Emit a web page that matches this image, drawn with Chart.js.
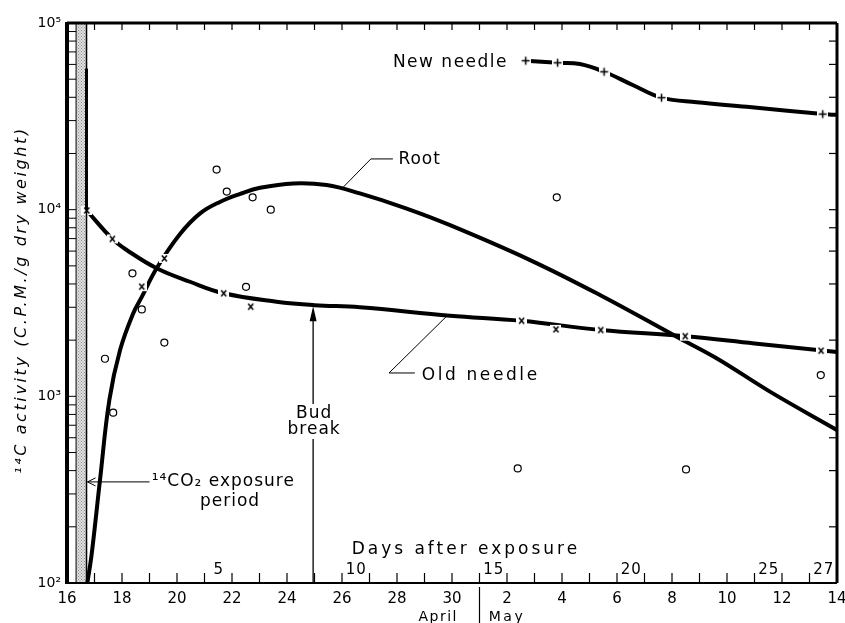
<!DOCTYPE html>
<html>
<head>
<meta charset="utf-8">
<script src="https://cdn.jsdelivr.net/npm/chart.js@4.4.0/dist/chart.umd.min.js"></script>
<style>
  html, body { margin: 0; padding: 0; background: #fff; }
</style>
</head>
<body>
<canvas id="carbonChart" width="845" height="623"></canvas>
<script>
/* eslint-disable no-undef */
// x is counted in days from 16 April
const dateTicks = [0, 2, 4, 6, 8, 10, 12, 14, 16, 18, 20, 22, 24, 26, 28];
const dateLabels = ['16', '18', '20', '22', '24', '26', '28', '30', '2', '4', '6', '8', '10', '12', '14'];
const yTicks = [100, 1000, 10000, 100000];
const yLabels = ['10²', '10³', '10⁴', '10⁵'];
const daysAfter = [5, 10, 15, 20, 25, 27];
const exposurePeriod = [0.33, 0.71];
const budBreakDay = 8.95;
const budBreakValue = 3080;

// measured points
const oldNeedleDays = [0.72, 1.65, 2.72, 3.54, 5.7, 6.68, 16.53, 17.78, 19.41, 22.48, 27.42];
const oldNeedleValues = [9900, 6970, 3870, 5480, 3565, 3020, 2540, 2285, 2265, 2100, 1755];
const newNeedleDays = [16.68, 17.84, 19.53, 21.62, 27.48];
const newNeedleValues = [62800, 61200, 54800, 39800, 32500];
const rootDays = [1.38, 1.68, 2.38, 2.72, 3.54, 5.44, 5.81, 6.51, 6.75, 7.41, 16.39, 17.81, 22.51, 27.41];
const rootValues = [1590, 817, 4560, 2920, 1940, 16400, 12500, 3860, 11650, 10000, 411, 11650, 406, 1300];

// fitted curves as drawn in the figure
const oldCurveDays = [0.72, 1.65, 2.17, 3.26, 4.47, 5.7, 7.62, 9.0, 10.65, 13.93, 16.53, 19.41, 22.48, 25.0, 28];
const oldCurveValues = [9900, 6970, 6080, 4855, 4110, 3565, 3215, 3080, 3000, 2705, 2540, 2265, 2100, 1920, 1730];
const newCurveDays = [16.68, 17.84, 18.65, 19.53, 20.59, 21.62, 22.9, 24.72, 27.48, 28];
const newCurveValues = [62800, 61200, 60300, 54800, 46400, 39800, 37600, 35600, 32500, 32200];
const rootCurveDays = [0.74, 0.9, 1.2, 1.54, 1.93, 2.41, 2.72, 3.26, 4.11, 4.84, 5.56, 6.3, 7.02, 8.23, 9.44, 10.65, 12.3, 13.93, 16.84, 19.38, 22.17, 23.62, 25.56, 27.99];
const rootCurveValues = [100, 144, 356, 955, 1770, 2790, 3410, 4855, 7400, 9550, 11000, 12150, 13100, 13830, 13550, 12220, 10200, 8260, 5370, 3490, 2085, 1600, 1060, 661];

const FONT = '"DejaVu Sans", sans-serif';
const pts = (xs, ys) => xs.map((d, i) => ({ x: d, y: ys[i] }));

function markCanvas(kind) {
  const c = document.createElement('canvas');
  c.width = 11;
  c.height = 11;
  const g = c.getContext('2d');
  g.fillStyle = '#fff';
  g.fillRect(0, 1, 11, 9);
  g.strokeStyle = '#000';
  g.lineWidth = 1.5;
  g.beginPath();
  if (kind === 'x') {
    g.moveTo(3, 2.5); g.lineTo(8, 8.5);
    g.moveTo(8, 2.5); g.lineTo(3, 8.5);
  } else {
    g.moveTo(1.5, 5.5); g.lineTo(9.5, 5.5);
    g.moveTo(5.5, 1.5); g.lineTo(5.5, 9.5);
  }
  g.stroke();
  return c;
}

function stipplePattern() {
  const c = document.createElement('canvas');
  c.width = 3;
  c.height = 3;
  const g = c.getContext('2d');
  g.fillStyle = '#e0e0e0';
  g.fillRect(0, 0, 3, 3);
  g.fillStyle = '#8a8a8a';
  g.fillRect(0, 0, 1, 1);
  g.fillRect(1.5, 1.5, 1, 1);
  return g.createPattern(c, 'repeat');
}

function text(ctx, str, x, y, size, opts = {}) {
  ctx.save();
  ctx.font = (opts.italic ? 'italic ' : '') + size + 'px ' + FONT;
  ctx.letterSpacing = (opts.spacing || 0) + 'px';
  ctx.textAlign = opts.align || 'left';
  ctx.textBaseline = 'middle';
  ctx.fillStyle = '#000';
  ctx.fillText(str, x, y);
  ctx.restore();
}

function line(ctx, coords, width) {
  ctx.save();
  ctx.strokeStyle = '#000';
  ctx.lineWidth = width;
  ctx.beginPath();
  ctx.moveTo(coords[0], coords[1]);
  for (let i = 2; i < coords.length; i += 2) ctx.lineTo(coords[i], coords[i + 1]);
  ctx.stroke();
  ctx.restore();
}

const decor = {
  id: 'decor',
  beforeDatasetsDraw(chart) {
    const { ctx, chartArea: a, scales: { x } } = chart;
    const x0 = x.getPixelForValue(exposurePeriod[0]);
    const x1 = x.getPixelForValue(exposurePeriod[1]);
    ctx.save();
    ctx.fillStyle = stipplePattern();
    ctx.fillRect(x0, a.top, x1 - x0, a.bottom - a.top);
    ctx.restore();
  },
  afterDatasetsDraw(chart) {
    const { ctx, chartArea: a, scales: { x, y } } = chart;
    const x0 = x.getPixelForValue(exposurePeriod[0]);
    const x1 = x.getPixelForValue(exposurePeriod[1]);

    // exposure strip edges
    line(ctx, [x0, a.top, x0, a.bottom], 1);
    line(ctx, [x1, a.top, x1, a.bottom], 1.5);
    line(ctx, [x1, y.getPixelForValue(57000), x1, y.getPixelForValue(10000)], 3);

    // day ticks, top and bottom, pointing inward
    for (let d = 1; d < 28; d++) {
      const px = x.getPixelForValue(d);
      line(ctx, [px, a.bottom, px, a.bottom - 10], 1.2);
      line(ctx, [px, a.top, px, a.top + 7], 1.2);
    }
    // log ladder on the left, even ticks on the right
    for (let dec = 100; dec < 100000; dec *= 10) {
      for (let m = 1; m <= 9; m++) {
        const py = y.getPixelForValue(dec * m);
        line(ctx, [a.left, py, x0, py], 1);
        if (m % 2 === 0 || m === 1) line(ctx, [a.right, py, a.right - 8, py], 1.2);
      }
    }

    // frame
    line(ctx, [a.left, a.top - 1, a.left, a.bottom + 1], 4);
    line(ctx, [a.left, a.top, a.right, a.top], 3);
    line(ctx, [a.right, a.top, a.right, a.bottom], 3);
    line(ctx, [a.left, a.bottom, a.right, a.bottom], 2);

    // days after exposure
    const mid = (exposurePeriod[0] + exposurePeriod[1]) / 2;
    daysAfter.forEach(n => text(ctx, String(n), x.getPixelForValue(mid + n), a.bottom - 13, 15, { align: 'center', spacing: 1 }));
    text(ctx, 'Days after exposure', x.getPixelForValue(10.35), a.bottom - 33, 17, { spacing: 3 });

    // month labels
    const sep = x.getPixelForValue(15);
    line(ctx, [sep, a.bottom + 4, sep, a.bottom + 40], 1.2);
    text(ctx, 'April', x.getPixelForValue(13.5), a.bottom + 34, 14, { align: 'center', spacing: 1.5 });
    text(ctx, 'May', x.getPixelForValue(16.0), a.bottom + 34, 14, { align: 'center', spacing: 2.5 });

    // y title
    ctx.save();
    ctx.translate(22, (a.top + a.bottom) / 2 - 3);
    ctx.rotate(-Math.PI / 2);
    text(ctx, '¹⁴C activity (C.P.M./g dry weight)', 0, 0, 16, { align: 'center', italic: true, spacing: 2.6 });
    ctx.restore();

    // curve labels
    const rt = [x.getPixelForValue(10.0), y.getPixelForValue(13000)];
    const ry = y.getPixelForValue(18700);
    line(ctx, [rt[0], rt[1], x.getPixelForValue(11.05), ry, x.getPixelForValue(11.85), ry], 1);
    text(ctx, 'Root', x.getPixelForValue(12.05), ry + 1, 17, { spacing: 1 });

    const ot = [x.getPixelForValue(13.82), y.getPixelForValue(2700)];
    const oy = y.getPixelForValue(1334);
    line(ctx, [ot[0], ot[1], x.getPixelForValue(11.71), oy, x.getPixelForValue(12.65), oy], 1);
    text(ctx, 'Old needle', x.getPixelForValue(12.9), oy + 3, 17, { spacing: 2.6 });

    text(ctx, 'New needle', x.getPixelForValue(11.85), y.getPixelForValue(61700), 17, { spacing: 1.5 });

    // bud break arrow
    const bx = x.getPixelForValue(budBreakDay);
    const tip = y.getPixelForValue(budBreakValue) + 1;
    const budY = y.getPixelForValue(813);
    const brkY = y.getPixelForValue(660);
    line(ctx, [bx, a.bottom, bx, brkY + 9], 1.3);
    line(ctx, [bx, budY - 9, bx, tip + 12], 1.3);
    ctx.save();
    ctx.fillStyle = '#000';
    ctx.beginPath();
    ctx.moveTo(bx, tip);
    ctx.lineTo(bx - 3.5, tip + 15);
    ctx.lineTo(bx + 3.5, tip + 15);
    ctx.closePath();
    ctx.fill();
    ctx.restore();
    text(ctx, 'Bud', bx + 1, budY, 17, { align: 'center', spacing: 1 });
    text(ctx, 'break', bx + 1, brkY, 17, { align: 'center', spacing: 1 });

    // exposure arrow
    const ay = y.getPixelForValue(348);
    const ax = x1 + 1;
    line(ctx, [x.getPixelForValue(3.0), ay, ax, ay], 1);
    line(ctx, [ax + 8, ay - 4, ax, ay, ax + 8, ay + 4], 1);
    text(ctx, '¹⁴CO₂ exposure', x.getPixelForValue(3.08), ay, 17, { spacing: 1 });
    text(ctx, 'period', x.getPixelForValue(5.93), y.getPixelForValue(272), 17, { align: 'center', spacing: 1 });
  }
};

const ctx = document.getElementById('carbonChart');

new Chart(ctx, {
  type: 'line',
  data: {
    datasets: [
      {
        label: 'Old needle points',
        data: pts(oldNeedleDays, oldNeedleValues),
        showLine: false,
        pointStyle: markCanvas('x'),
        pointRadius: 4,
        order: 0,
      },
      {
        label: 'New needle points',
        data: pts(newNeedleDays, newNeedleValues),
        showLine: false,
        pointStyle: markCanvas('+'),
        pointRadius: 4,
        order: 0,
      },
      {
        label: 'Root points',
        data: pts(rootDays, rootValues),
        showLine: false,
        pointStyle: 'circle',
        pointRadius: 3.5,
        borderColor: '#000',
        backgroundColor: 'rgba(0,0,0,0)',
        pointBorderWidth: 1.2,
        order: 0,
      },
      {
        label: 'Old needle',
        data: pts(oldCurveDays, oldCurveValues),
        borderColor: '#000',
        borderWidth: 4,
        pointRadius: 0,
        tension: 0.4,
        order: 1,
      },
      {
        label: 'New needle',
        data: pts(newCurveDays, newCurveValues),
        borderColor: '#000',
        borderWidth: 4,
        pointRadius: 0,
        tension: 0.4,
        order: 1,
      },
      {
        label: 'Root',
        data: pts(rootCurveDays, rootCurveValues),
        borderColor: '#000',
        borderWidth: 4,
        pointRadius: 0,
        tension: 0.4,
        order: 1,
      },
    ],
  },
  options: {
    responsive: false,
    animation: false,
    layout: { padding: { top: 23, right: 8, left: 0, bottom: 0 } },
    plugins: { legend: { display: false }, tooltip: { enabled: false } },
    scales: {
      x: {
        type: 'linear',
        min: 0,
        max: 28,
        grid: { display: false, drawTicks: false },
        border: { display: false },
        afterBuildTicks: (s) => { s.ticks = dateTicks.map(v => ({ value: v })); },
        afterFit: (s) => { s.height = 40; s.paddingLeft = 0; s.paddingRight = 0; },
        ticks: {
          autoSkip: false,
          maxRotation: 0,
          padding: 7,
          color: '#000',
          font: { family: FONT, size: 15 },
          callback: (v, i) => dateLabels[i],
        },
      },
      y: {
        type: 'logarithmic',
        min: 100,
        max: 100000,
        grid: { display: false, drawTicks: false },
        border: { display: false },
        afterBuildTicks: (s) => { s.ticks = yTicks.map(v => ({ value: v })); },
        afterFit: (s) => { s.width = 67; s.paddingTop = 0; s.paddingBottom = 0; },
        ticks: {
          autoSkip: false,
          padding: 6,
          color: '#000',
          font: { family: FONT, size: 14 },
          callback: (v, i) => yLabels[i],
        },
      },
    },
  },
  plugins: [decor],
});
</script>
</body>
</html>
